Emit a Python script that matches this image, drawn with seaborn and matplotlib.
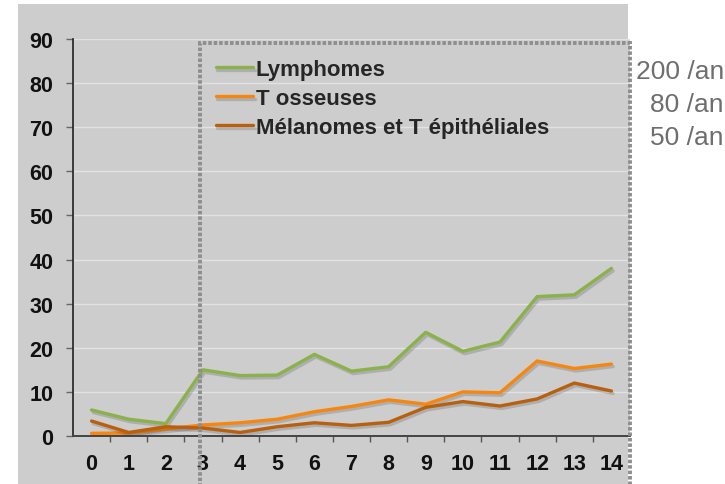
import pandas as pd
import seaborn as sns
import matplotlib.pyplot as plt
import matplotlib.patheffects as pe
from matplotlib.patches import Rectangle

# valeurs
ages = list(range(15))
lymphomes = [5.9, 3.8, 2.8, 15.0, 13.7, 13.8, 18.5, 14.7, 15.7, 23.5, 19.2, 21.3, 31.6, 32.0, 38.0]
t_osseuses = [0.6, 0.7, 1.6, 2.5, 3.0, 3.8, 5.5, 6.7, 8.2, 7.2, 10.0, 9.8, 17.0, 15.3, 16.3]
melanomes = [3.4, 0.8, 2.1, 1.8, 0.8, 2.1, 3.0, 2.4, 3.1, 6.5, 7.8, 6.8, 8.4, 12.0, 10.2]
series_names = ["Lymphomes", "T osseuses", "Mélanomes et T épithéliales"]
rates = ["200 /an", "80 /an", "50 /an"]
colors = ["#8bb14a", "#f7860f", "#b8600e"]

df = pd.DataFrame({"age": ages, series_names[0]: lymphomes,
                   series_names[1]: t_osseuses, series_names[2]: melanomes})
long_df = df.melt(id_vars="age", var_name="type", value_name="valeur")

sns.set_style("white")
plt.rcParams["font.family"] = ["Liberation Sans", "DejaVu Sans"]

fig = plt.figure(figsize=(7.25, 4.85), dpi=100)
fig.patch.set_facecolor("white")
# fond gris de la diapo
fig.patches.append(Rectangle((18 / 725, 0), 610 / 725, 1 - 5 / 485, transform=fig.transFigure,
                             facecolor="#cdcdcd", edgecolor="none", zorder=-1))

ax = fig.add_axes([73 / 725, 48 / 485, 557 / 725, 397 / 485])
ax.set_facecolor("#cdcdcd")

sns.lineplot(data=long_df, x="age", y="valeur", hue="type", palette=colors,
             linewidth=2.4, ax=ax, legend=True)
for line in ax.lines:
    line.set_path_effects([pe.SimpleLineShadow(offset=(1.2, -1.8), shadow_color="k", alpha=0.15),
                           pe.Normal()])

ax.set_xlim(-0.5, 14.5)
ax.set_ylim(0, 90)
ax.set_yticks(range(0, 91, 10))
ax.set_xticks(ages)
ax.set_xticks([a + 0.5 for a in ages[:-1]], minor=True)
ax.set_xlabel("")
ax.set_ylabel("")
ax.yaxis.grid(True, color="#e2e2e2", linewidth=1)
ax.set_axisbelow(True)

for s in ["top", "right"]:
    ax.spines[s].set_visible(False)
ax.spines["left"].set_color("#222222")
ax.spines["bottom"].set_color("#444444")
ax.spines["left"].set_linewidth(1.2)
ax.spines["bottom"].set_linewidth(1.4)

ax.tick_params(axis="y", left=True, length=5, width=1, color="#666666", pad=9,
               labelsize=15.5)
ax.tick_params(axis="x", which="major", bottom=False, length=0, pad=12, labelsize=15.5)
ax.tick_params(axis="x", which="minor", bottom=True, length=4, width=1, color="#555555")
for lab in ax.get_xticklabels() + ax.get_yticklabels():
    lab.set_fontweight("bold")
    lab.set_color("#111111")

leg = ax.legend(loc="upper left", bbox_to_anchor=(0.24, 0.972), frameon=False,
                handlelength=1.7, handletextpad=0.1, labelspacing=0.36,
                prop={"weight": "bold", "size": 16}, borderaxespad=0)
for h in leg.get_lines():
    h.set_linewidth(2.4)

# cadre pointillé
fig.patches.append(Rectangle((200 / 725, -0.05), 430 / 725, 1.05 - 44 / 485,
                             transform=fig.transFigure, fill=False, edgecolor="#8e8e8e",
                             linewidth=2.8, linestyle=(0, (0.9, 0.5)), zorder=5))

for i, r in enumerate(rates):
    fig.text(724 / 725, 1 - (72 + 33 * i) / 485, r, ha="right", va="center",
             fontsize=19, color="#6e6e6e")

fig.savefig("out.png", dpi=100)
